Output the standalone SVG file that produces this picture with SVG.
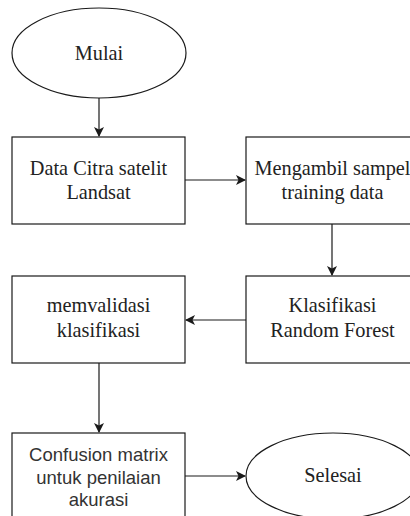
<svg xmlns="http://www.w3.org/2000/svg" width="410" height="516" viewBox="0 0 410 516">
<style>
.shape{fill:#fff;stroke:#1a1a1a;stroke-width:1.2}
.edge{fill:none;stroke:#1a1a1a;stroke-width:1.2}
.t{font-family:'Liberation Serif','Times New Roman',serif;font-size:20.3px;fill:#222;text-anchor:middle}
.s{font-family:'Liberation Sans',Arial,sans-serif;font-size:18.5px;fill:#333;text-anchor:middle}
</style>
<defs>
<marker id="arr" markerWidth="10" markerHeight="10" refX="9" refY="5" orient="auto" markerUnits="userSpaceOnUse">
<path d="M0,0 L10,5 L0,10 L2.5,5 Z" fill="#1a1a1a"/>
</marker>
</defs>
<rect width="410" height="516" fill="#fff"/>
<g id="connectors">
<line class="edge" x1="99" y1="98" x2="99" y2="136" marker-end="url(#arr)"/>
<line class="edge" x1="185" y1="180" x2="245" y2="180" marker-end="url(#arr)"/>
<line class="edge" x1="332" y1="224" x2="332" y2="275" marker-end="url(#arr)"/>
<line class="edge" x1="246" y1="320" x2="186" y2="320" marker-end="url(#arr)"/>
<line class="edge" x1="99" y1="363" x2="99" y2="432" marker-end="url(#arr)"/>
<line class="edge" x1="185" y1="476" x2="245" y2="476" marker-end="url(#arr)"/>
</g>
<g id="mulai">
<ellipse class="shape" cx="99" cy="53" rx="87" ry="45"/>
<text class="t" x="99" y="60">Mulai</text>
</g>
<g id="data-citra">
<rect class="shape" x="12" y="137" width="173" height="87"/>
<text class="t" x="98.5" y="175">Data Citra satelit</text>
<text class="t" x="98.5" y="199">Landsat</text>
</g>
<g id="mengambil">
<rect class="shape" x="246" y="137" width="173" height="87"/>
<text class="t" x="332.5" y="175">Mengambil sampel</text>
<text class="t" x="332.5" y="199">training data</text>
</g>
<g id="klasifikasi">
<rect class="shape" x="246" y="276" width="173" height="87"/>
<text class="t" x="332.5" y="312">Klasifikasi</text>
<text class="t" x="332.5" y="337">Random Forest</text>
</g>
<g id="memvalidasi">
<rect class="shape" x="12" y="276" width="173" height="87"/>
<text class="t" x="98.5" y="312">memvalidasi</text>
<text class="t" x="98.5" y="337">klasifikasi</text>
</g>
<g id="confusion">
<rect class="shape" x="12" y="433" width="173" height="90"/>
<text class="s" x="98.5" y="461">Confusion matrix</text>
<text class="s" x="98.5" y="484">untuk penilaian</text>
<text class="s" x="98.5" y="506">akurasi</text>
</g>
<g id="selesai">
<ellipse class="shape" cx="333" cy="476" rx="87" ry="43"/>
<text class="t" x="333" y="482">Selesai</text>
</g>
</svg>
